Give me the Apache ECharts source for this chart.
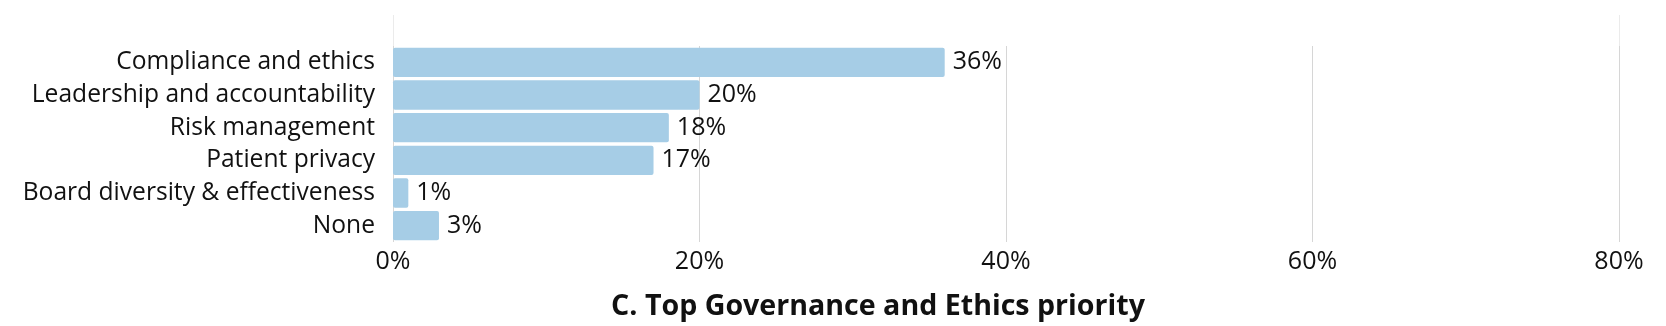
<!DOCTYPE html>
<html>
<head>
<meta charset="utf-8">
<script src="https://cdn.jsdelivr.net/npm/echarts@6/dist/echarts.min.js"></script>
<style>
  html, body { margin: 0; padding: 0; background: #ffffff; }
  #chart { width: 1666px; height: 326px; }
</style>
</head>
<body>
<div id="chart"></div>
<script>
// Survey responses: top governance and ethics priority (share of respondents, %)
const categories = [
  'Compliance and ethics',
  'Leadership and accountability',
  'Risk management',
  'Patient privacy',
  'Board diversity & effectiveness',
  'None'
];
const shares = [36, 20, 18, 17, 1, 3];
const axisTicks = [0, 20, 40, 60, 80];
const chartTitle = 'C. Top Governance and Ethics priority';

const textColor = '#111111';
const fontFamily = '"Open Sans", Roboto, sans-serif';

const chart = echarts.init(document.getElementById('chart'), null, { renderer: 'canvas' });

chart.setOption({
  animation: false,
  backgroundColor: '#ffffff',
  title: {
    text: chartTitle,
    left: 873,
    textAlign: 'center',
    top: 287,
    textStyle: { fontFamily: fontFamily, fontWeight: 'bold', fontSize: 28.6, color: textColor }
  },
  grid: [
    { left: 393, right: 47, top: 46, height: 196 },
    { left: 393, right: 47, top: 15, height: 31 }
  ],
  xAxis: [
    {
      gridIndex: 0,
      type: 'value',
      min: axisTicks[0],
      max: axisTicks[axisTicks.length - 1],
      interval: axisTicks[1] - axisTicks[0],
      axisLine: { show: false },
      axisTick: { show: false },
      axisLabel: {
        formatter: '{value}%',
        fontFamily: fontFamily,
        fontSize: 25,
        color: textColor,
        margin: 7
      },
      splitLine: { show: true, lineStyle: { color: '#d6d6d6', width: 1 } }
    },
    {
      gridIndex: 1,
      type: 'value',
      min: axisTicks[0],
      max: axisTicks[axisTicks.length - 1],
      interval: axisTicks[axisTicks.length - 1] - axisTicks[0],
      axisLine: { show: false },
      axisTick: { show: false },
      axisLabel: { show: false },
      splitLine: { show: true, lineStyle: { color: '#ebebeb', width: 1 } }
    }
  ],
  yAxis: [
    {
      gridIndex: 0,
      type: 'category',
      data: categories,
      inverse: true,
      axisLine: { show: false },
      axisTick: { show: false },
      axisLabel: {
        fontFamily: fontFamily,
        fontSize: 24.6,
        color: textColor,
        margin: 18
      }
    },
    {
      gridIndex: 1,
      type: 'category',
      data: [''],
      show: false
    }
  ],
  series: [
    {
      type: 'bar',
      xAxisIndex: 0,
      yAxisIndex: 0,
      data: shares,
      barCategoryGap: '10%',
      itemStyle: { color: '#a6cde6', borderRadius: 2 },
      label: {
        show: true,
        position: 'right',
        distance: 8,
        formatter: '{c}%',
        fontFamily: fontFamily,
        fontSize: 25,
        color: textColor
      }
    }
  ]
});
</script>
</body>
</html>
